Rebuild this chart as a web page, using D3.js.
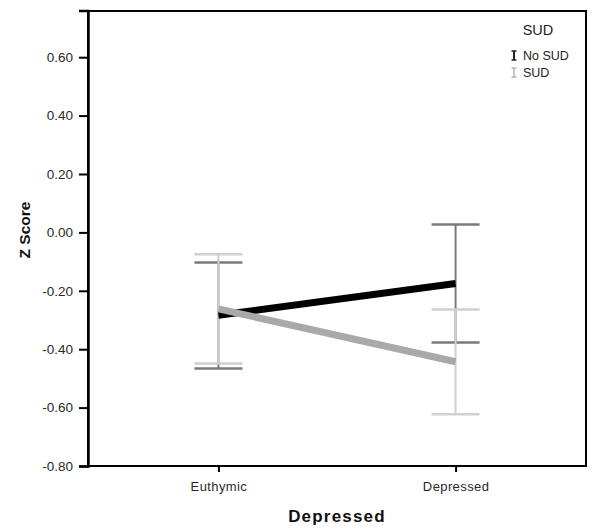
<!DOCTYPE html>
<html><head><meta charset="utf-8">
<script src="https://cdn.jsdelivr.net/npm/d3@7"></script>
<style>body{margin:0;background:#fff;} text{font-family:"Liberation Sans",Arial,sans-serif;}</style>
</head><body>
<svg id="c" width="600" height="532"></svg>
<script>
const categories = ["Euthymic", "Depressed"];
const seriesNames = ["No SUD", "SUD"];
const noSudMean = [-0.284, -0.175];
const noSudLow = [-0.466, -0.377];
const noSudHigh = [-0.103, 0.027];
const sudMean = [-0.262, -0.443];
const sudLow = [-0.449, -0.623];
const sudHigh = [-0.075, -0.264];
const yTicks = [0.6, 0.4, 0.2, 0.0, -0.2, -0.4, -0.6, -0.8];

const series = [
  {name: seriesNames[0], mean: noSudMean, low: noSudLow, high: noSudHigh, line: "#000", bar: "#7a7a7a", icon: "#222"},
  {name: seriesNames[1], mean: sudMean, low: sudLow, high: sudHigh, line: "#a9a9a9", bar: "#cfcfcf", icon: "#b5b5b5"}
];

const svg = d3.select("#c");
const L = 88, R = 586, T = 11, B = 466;
const y = d3.scaleLinear().domain([-0.8, 0.76]).range([B, B - 1.56 * 292]);
const x = d3.scalePoint().domain(categories).range([L, R]).padding(0.55);
const fmt = d => d3.format(".2f")(d).replace("\u2212", "-");

// frame
svg.append("rect").attr("x", L).attr("y", T).attr("width", R - L).attr("height", B - T)
  .attr("fill", "none").attr("stroke", "#000").attr("stroke-width", 2);

// y axis
const ya = svg.append("g").attr("transform", `translate(${L},0)`)
  .call(d3.axisLeft(y).tickValues(yTicks).tickFormat(fmt).tickSize(9).tickPadding(6));
ya.select(".domain").attr("stroke-width", 2.5);
ya.selectAll(".tick line").attr("stroke-width", 2);
ya.selectAll("text").attr("font-size", 13.5).attr("fill", "#2a2a2a");

// x axis
const xa = svg.append("g").attr("transform", `translate(0,${B})`)
  .call(d3.axisBottom(x).tickSize(6).tickPadding(10));
xa.select(".domain").remove();
xa.selectAll(".tick line").attr("stroke-width", 2);
xa.selectAll("text").attr("font-size", 13).attr("letter-spacing", 0.4).attr("fill", "#2a2a2a");

// axis titles
svg.append("text").attr("x", (L + R) / 2).attr("y", 522).attr("text-anchor", "middle")
  .attr("font-weight", "bold").attr("font-size", 17).attr("letter-spacing", 1.2).attr("fill", "#111").text("Depressed");
svg.append("text").attr("transform", `translate(30,230) rotate(-90)`).attr("text-anchor", "middle")
  .attr("font-weight", "bold").attr("font-size", 15.5).attr("fill", "#111").text("Z Score");

// error bars (No SUD first, SUD on top)
const cap = 24;
series.forEach(s => {
  const g = svg.append("g");
  categories.forEach((c, i) => {
    const cx = x(c);
    g.append("line").attr("x1", cx).attr("x2", cx).attr("y1", y(s.low[i])).attr("y2", y(s.high[i]))
      .attr("stroke", s.bar).attr("stroke-width", 2);
    [s.low[i], s.high[i]].forEach(v => {
      g.append("line").attr("x1", cx - cap).attr("x2", cx + cap).attr("y1", y(v)).attr("y2", y(v))
        .attr("stroke", s.bar).attr("stroke-width", 2.5);
    });
  });
});

// mean lines
const line = d3.line().x((d, i) => x(categories[i])).y(d => y(d));
series.forEach(s => {
  svg.append("path").attr("d", line(s.mean)).attr("fill", "none")
    .attr("stroke", s.line).attr("stroke-width", 7);
});

// legend
svg.append("text").attr("x", 538).attr("y", 35).attr("text-anchor", "middle")
  .attr("font-size", 14.5).attr("fill", "#222").text("SUD");
series.forEach((s, i) => {
  const ly = 60 + i * 17;
  const ix = 514;
  const w = i === 0 ? 2 : 1.5;
  svg.append("line").attr("x1", ix).attr("x2", ix).attr("y1", ly - 9).attr("y2", ly).attr("stroke", s.icon).attr("stroke-width", w);
  svg.append("line").attr("x1", ix - 2.5).attr("x2", ix + 2.5).attr("y1", ly - 9).attr("y2", ly - 9).attr("stroke", s.icon).attr("stroke-width", 1.5);
  svg.append("line").attr("x1", ix - 2.5).attr("x2", ix + 2.5).attr("y1", ly).attr("y2", ly).attr("stroke", s.icon).attr("stroke-width", 1.5);
  svg.append("text").attr("x", 523).attr("y", ly).attr("font-size", 12.5).attr("fill", "#222").text(s.name);
});
</script>
</body></html>
